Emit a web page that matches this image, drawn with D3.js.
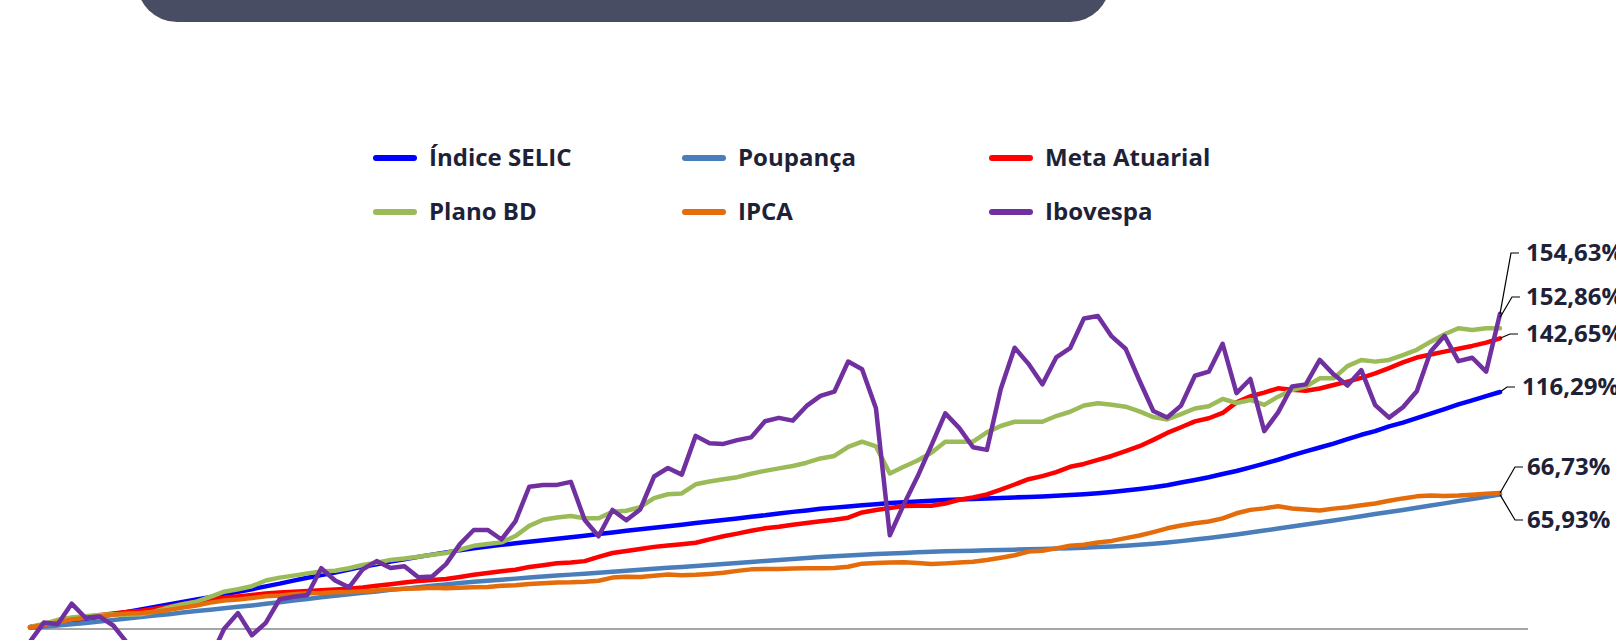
<!DOCTYPE html>
<html>
<head>
<meta charset="utf-8">
<script src="https://cdn.jsdelivr.net/npm/d3@7"></script>
<style>
  html, body { margin: 0; padding: 0; background: #ffffff; }
  svg { display: block; }
  text { font-family: "Open Sans", "Noto Sans", sans-serif; font-weight: 700; fill: #1e2238; }
</style>
</head>
<body>
<svg id="chart" width="1616" height="640"></svg>
<script>
// ---------- DATA ----------
const months = [
  "jan/15","fev/15","mar/15","abr/15","mai/15","jun/15","jul/15","ago/15","set/15","out/15","nov/15","dez/15",
  "jan/16","fev/16","mar/16","abr/16","mai/16","jun/16","jul/16","ago/16","set/16","out/16","nov/16","dez/16",
  "jan/17","fev/17","mar/17","abr/17","mai/17","jun/17","jul/17","ago/17","set/17","out/17","nov/17","dez/17",
  "jan/18","fev/18","mar/18","abr/18","mai/18","jun/18","jul/18","ago/18","set/18","out/18","nov/18","dez/18",
  "jan/19","fev/19","mar/19","abr/19","mai/19","jun/19","jul/19","ago/19","set/19","out/19","nov/19","dez/19",
  "jan/20","fev/20","mar/20","abr/20","mai/20","jun/20","jul/20","ago/20","set/20","out/20","nov/20","dez/20",
  "jan/21","fev/21","mar/21","abr/21","mai/21","jun/21","jul/21","ago/21","set/21","out/21","nov/21","dez/21",
  "jan/22","fev/22","mar/22","abr/22","mai/22","jun/22","jul/22","ago/22","set/22","out/22","nov/22","dez/22",
  "jan/23","fev/23","mar/23","abr/23","mai/23","jun/23","jul/23","ago/23","set/23","out/23","nov/23"
];

const selic = [
  0.94, 1.77, 2.83, 3.80, 4.83, 5.95, 7.20, 8.39, 9.60, 10.81, 11.99, 13.29,
  14.49, 15.63, 16.97, 18.21, 19.53, 20.91, 22.25, 23.75, 25.12, 26.43, 27.75, 29.18,
  30.59, 31.72, 33.11, 34.16, 35.40, 36.50, 37.59, 38.69, 39.58, 40.48, 41.28, 42.04,
  42.86, 43.53, 44.29, 45.05, 45.80, 46.56, 47.35, 48.19, 48.89, 49.69, 50.42, 51.16,
  51.98, 52.72, 53.44, 54.24, 55.07, 55.80, 56.69, 57.47, 58.19, 58.95, 59.56, 60.15,
  60.76, 61.22, 61.77, 62.22, 62.61, 62.96, 63.26, 63.53, 63.79, 64.05, 64.30, 64.56,
  64.81, 65.02, 65.35, 65.70, 66.14, 66.66, 67.26, 67.98, 68.72, 69.54, 70.55, 71.86,
  73.11, 74.43, 76.05, 77.51, 79.34, 81.17, 83.04, 85.18, 87.16, 89.07, 91.00, 93.14,
  95.30, 97.09, 99.40, 101.24, 103.49, 105.67, 107.87, 110.20, 112.22, 114.30, 116.29
];

const poupanca = [
  0.59, 1.11, 1.71, 2.35, 2.97, 3.68, 4.43, 5.15, 5.88, 6.61, 7.28, 8.06,
  8.82, 9.47, 10.17, 10.87, 11.58, 12.38, 13.16, 13.99, 14.77, 15.53, 16.27, 17.02,
  17.81, 18.43, 19.20, 19.81, 20.53, 21.20, 21.87, 22.53, 23.14, 23.71, 24.22, 24.72,
  25.22, 25.72, 26.21, 26.68, 27.15, 27.62, 28.09, 28.56, 29.04, 29.52, 30.00, 30.48,
  30.96, 31.45, 31.93, 32.42, 32.91, 33.40, 33.90, 34.39, 34.86, 35.29, 35.69, 36.04,
  36.39, 36.75, 37.05, 37.35, 37.65, 37.89, 38.09, 38.27, 38.44, 38.60, 38.77, 38.94,
  39.10, 39.27, 39.44, 39.66, 39.88, 40.19, 40.53, 40.87, 41.29, 41.80, 42.42, 43.12,
  43.92, 44.64, 45.49, 46.37, 47.35, 48.30, 49.27, 50.28, 51.29, 52.21, 53.22, 54.28,
  55.37, 56.43, 57.44, 58.44, 59.51, 60.55, 61.64, 62.79, 63.80, 64.85, 65.93
];

const metaAtuarial = [
  0.9, 2.2, 3.6, 5.0, 5.8, 6.7, 7.6, 8.4, 9.0, 9.9, 10.9, 12.1,
  13.4, 14.5, 15.4, 16.0, 16.7, 17.4, 17.9, 18.3, 18.7, 19.0, 19.4, 19.8,
  20.4, 21.2, 22.0, 22.8, 23.5, 24.0, 24.5, 25.5, 26.6, 27.5, 28.3, 29.1,
  30.4, 31.3, 32.3, 32.6, 33.3, 35.4, 37.3, 38.3, 39.3, 40.3, 41.0, 41.6,
  42.3, 44.0, 45.5, 46.8, 48.2, 49.4, 50.2, 51.2, 52.0, 52.9, 53.6, 54.6,
  57.2, 58.4, 59.4, 60.3, 60.5, 60.5, 61.6, 63.4, 64.6, 66.0, 68.4, 70.9,
  73.5, 75.0, 77.0, 79.6, 81.0, 83.0, 84.9, 87.3, 89.7, 92.8, 96.2, 99.0,
  101.9, 103.4, 106.0, 111.2, 114.2, 116.0, 118.1, 117.4, 116.9, 118.0, 119.7, 121.4,
  123.2, 125.4, 128.0, 130.8, 133.2, 134.7, 136.1, 137.5, 138.9, 140.5, 142.65
];

const planoBD = [
  1.0, 2.5, 4.5, 5.7, 6.3, 6.9, 7.2, 7.0, 7.2, 8.6, 10.6, 12.2,
  13.4, 15.8, 18.3, 19.5, 21.0, 23.8, 25.2, 26.2, 27.3, 28.2, 28.6, 29.8,
  31.4, 32.5, 33.9, 34.6, 35.5, 36.4, 37.3, 39.0, 40.8, 41.7, 42.5, 45.6,
  50.6, 53.6, 54.7, 55.4, 54.3, 54.3, 57.5, 58.0, 59.8, 64.2, 66.1, 66.5,
  71.0, 72.4, 73.5, 74.5, 76.2, 77.6, 78.8, 80.0, 81.6, 83.7, 84.9, 89.4,
  91.9, 89.6, 76.3, 79.6, 82.7, 86.5, 91.9, 91.9, 91.9, 96.5, 99.6, 101.7,
  101.7, 101.7, 104.5, 106.6, 109.7, 110.8, 110.0, 109.1, 106.8, 104.0, 102.8, 105.4,
  108.2, 109.3, 112.9, 110.9, 112.4, 110.0, 114.0, 117.3, 119.0, 123.0, 123.0, 129.0,
  132.0, 131.2, 132.0, 134.4, 137.0, 141.0, 144.6, 147.6, 146.7, 147.6, 147.6, 152.86
];

const ipca = [
  0.78, 2.03, 3.27, 4.64, 5.38, 6.16, 7.00, 7.66, 7.90, 8.48, 9.37, 10.48,
  11.54, 12.95, 13.97, 14.46, 15.16, 16.06, 16.46, 17.07, 17.58, 17.68, 17.98, 18.20,
  18.55, 19.00, 19.39, 19.69, 19.86, 20.23, 19.96, 20.24, 20.47, 20.66, 21.17, 21.51,
  22.05, 22.40, 22.79, 22.90, 23.17, 23.66, 25.22, 25.64, 25.52, 26.13, 26.69, 26.43,
  26.62, 27.02, 27.57, 28.52, 29.26, 29.43, 29.44, 29.68, 29.83, 29.78, 29.90, 30.57,
  32.07, 32.35, 32.68, 32.77, 32.36, 31.86, 32.20, 32.67, 32.99, 33.84, 34.99, 36.20,
  38.03, 38.38, 39.57, 40.87, 41.30, 42.48, 43.23, 44.61, 45.87, 47.56, 49.40, 50.82,
  51.92, 52.74, 54.28, 56.78, 58.45, 59.19, 60.26, 59.17, 58.59, 58.13, 59.07, 59.72,
  60.71, 61.56, 62.92, 64.08, 65.08, 65.46, 65.32, 65.52, 65.90, 66.33, 66.73
];

const ibovespa = [
  -6.20, 3.15, 2.29, 12.44, 5.51, 6.15, 1.72, -6.76, -9.89, -8.28, -9.77, -13.31,
  -19.20, -14.43, 0.10, 7.80, -3.07, 3.04, 14.60, 15.79, 16.72, 29.83, 23.79, 20.44,
  29.32, 33.31, 29.95, 30.79, 25.40, 25.78, 31.82, 41.65, 48.57, 48.60, 43.92, 52.78,
  69.80, 70.68, 70.71, 72.21, 53.48, 45.50, 58.42, 53.33, 58.66, 74.82, 78.98, 75.75,
  94.76, 91.14, 90.80, 92.68, 94.03, 101.91, 103.60, 102.24, 109.46, 114.41, 116.44, 131.26,
  127.49, 108.31, 46.02, 60.99, 74.78, 90.09, 105.80, 98.71, 89.18, 87.88, 117.76, 138.00,
  130.10, 120.04, 133.24, 137.76, 152.40, 153.57, 143.57, 137.53, 121.93, 106.97, 103.80, 109.61,
  124.26, 126.25, 139.96, 115.72, 122.67, 97.06, 106.30, 119.01, 120.04, 132.04, 124.94, 119.44,
  127.03, 109.83, 103.74, 108.83, 116.64, 136.14, 143.85, 131.45, 133.10, 126.26, 154.63
];

const seriesNames = ["Índice SELIC", "Poupança", "Meta Atuarial", "Plano BD", "IPCA", "Ibovespa"];
const seriesValues = [selic, poupanca, metaAtuarial, planoBD, ipca, ibovespa];
const seriesColors = ["#0000ff", "#4a7ebb", "#ff0000", "#9bbb59", "#e46c0a", "#7030a0"];

// ---------- LAYOUT ----------
const svg = d3.select("#chart");

// header banner
const hdr = d3.path();
(function () {
  const x0 = 137, x1 = 1110, y0 = -80, y1 = 22, r = 40;
  hdr.moveTo(x0, y0);
  hdr.lineTo(x0, y1 - r);
  hdr.arcTo(x0, y1, x0 + r, y1, r);
  hdr.lineTo(x1 - r, y1);
  hdr.arcTo(x1, y1, x1, y1 - r, r);
  hdr.lineTo(x1, y0);
  hdr.closePath();
})();
svg.append("path").attr("d", hdr.toString()).attr("fill", "#484d63");

const x = d3.scalePoint().domain(months).range([30, 1500]);
const y = d3.scaleLinear().domain([0, 100]).range([629, 425.2]);

// baseline (0%)
svg.append("line")
  .attr("x1", 30).attr("x2", 1528)
  .attr("y1", y(0)).attr("y2", y(0))
  .attr("stroke", "#a6a6a6").attr("stroke-width", 2);

const line = d3.line()
  .x((d, i) => x(months[i]))
  .y(d => y(d));

const g = svg.append("g");
seriesValues.forEach((vals, k) => {
  g.append("path")
    .datum(vals)
    .attr("d", line)
    .attr("fill", "none")
    .attr("stroke", seriesColors[k])
    .attr("stroke-width", 4.5)
    .attr("stroke-linejoin", "round")
    .attr("stroke-linecap", "round");
});

// legend
const legendCols = [373, 682, 989];
const legendRows = [158, 212];
seriesNames.forEach((name, k) => {
  const cx = legendCols[k % 3], cy = legendRows[Math.floor(k / 3)];
  svg.append("line")
    .attr("x1", cx + 3).attr("x2", cx + 41)
    .attr("y1", cy).attr("y2", cy)
    .attr("stroke", seriesColors[k]).attr("stroke-width", 6)
    .attr("stroke-linecap", "round");
  svg.append("text")
    .attr("x", cx + 56).attr("y", cy)
    .attr("dy", "0.35em")
    .attr("font-size", 24)
    .text(name);
});

// end labels
const locale = d3.formatLocale({ decimal: ",", thousands: ".", grouping: [3], currency: ["R$", ""] });
const fmt = locale.format(".2f");
const labelSpec = [
  { k: 5, ly: 253, ex: 1511, tx: 1526 },
  { k: 3, ly: 297, ex: 1512, tx: 1526 },
  { k: 2, ly: 334, ex: 1510, tx: 1526 },
  { k: 0, ly: 387, ex: 1507, tx: 1522 },
  { k: 4, ly: 467, ex: 1515, tx: 1527 },
  { k: 1, ly: 520, ex: 1515, tx: 1527 }
];
labelSpec.forEach(s => {
  const vals = seriesValues[s.k];
  const last = vals[vals.length - 1];
  const px = x(months[months.length - 1]), py = y(last);
  svg.append("polyline")
    .attr("points", `${px},${py} ${s.ex},${s.ly} ${s.ex + 8},${s.ly}`)
    .attr("fill", "none").attr("stroke", "#000").attr("stroke-width", 1.2);
  svg.append("text")
    .attr("x", s.tx).attr("y", s.ly)
    .attr("dy", "0.35em")
    .attr("font-size", 24)
    .text(fmt(last) + "%");
});
</script>
</body>
</html>
